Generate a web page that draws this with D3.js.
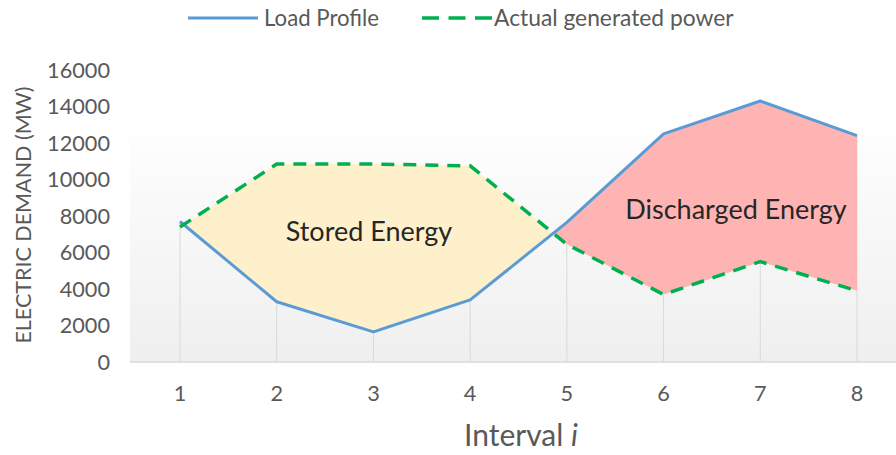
<!DOCTYPE html>
<html><head><meta charset="utf-8">
<script src="https://cdn.jsdelivr.net/npm/d3@7"></script>
<style>body{margin:0;background:#fff}svg{display:block;font-family:Lato,"Open Sans",sans-serif}</style>
</head><body><svg id="c" width="896" height="455"></svg>
<script>
const intervals = [1,2,3,4,5,6,7,8];
const loadProfile = [7700, 3300, 1650, 3400, 7650, 12500, 14300, 12400];
const generated = [7400, 10850, 10850, 10750, 6450, 3700, 5500, 3900];
const yTicks = [0,2000,4000,6000,8000,10000,12000,14000,16000];
const seriesNames = ["Load Profile", "Actual generated power"];
const regionLabels = ["Stored Energy", "Discharged Energy"];

const svg = d3.select("#c");
const x = d3.scalePoint().domain(intervals).range([180, 857]);
const y = d3.scaleLinear().domain([0,16000]).range([362, 70]);

// background gradient
const defs = svg.append("defs");
const g = defs.append("linearGradient").attr("id","bg").attr("x1",0).attr("y1",0).attr("x2",0).attr("y2",1);
g.append("stop").attr("offset","0%").attr("stop-color","#ffffff");
g.append("stop").attr("offset","100%").attr("stop-color","#efefef");
svg.append("rect").attr("x",130).attr("y",115).attr("width",766).attr("height",247).attr("fill","url(#bg)");

// drop lines
svg.append("g").selectAll("line").data(intervals).join("line")
  .attr("x1",d=>x(d)).attr("x2",d=>x(d))
  .attr("y1",y(0)).attr("y2",(d,i)=>y(Math.max(loadProfile[i],generated[i])))
  .attr("stroke","#d9d9d9").attr("stroke-width",1);

// crossing between series
const pts = intervals.map((d,i)=>({i:d, l:loadProfile[i], g:generated[i]}));
let stored=[], discharged=[];
for (let k=0;k<pts.length;k++){
  const p=pts[k];
  if (p.g>=p.l) stored.push(p); else discharged.push(p);
  if (k<pts.length-1){
    const q=pts[k+1];
    const d0=p.g-p.l, d1=q.g-q.l;
    if (d0*d1<0){
      const t=d0/(d0-d1);
      const c={i:p.i+t*(q.i-p.i), l:p.l+t*(q.l-p.l), g:p.g+t*(q.g-p.g)};
      stored.push(c); discharged.push(c);
    }
  }
}
const xl = d3.scaleLinear().domain([1,8]).range([x(1),x(8)]);
const area = d3.area().x(d=>xl(d.i)).y0(d=>y(d.l)).y1(d=>y(d.g));
svg.append("path").datum(stored).attr("d",area).attr("fill","#fff0cc");
svg.append("path").datum(discharged).attr("d",area).attr("fill","#ffb4b4");

// axis line
svg.append("line").attr("x1",130).attr("x2",896).attr("y1",y(0)).attr("y2",y(0)).attr("stroke","#d9d9d9").attr("stroke-width",1.5);

// lines
const line = d3.line().x((d,i)=>x(intervals[i])).y(d=>y(d));
svg.append("path").datum(loadProfile).attr("d",line).attr("fill","none").attr("stroke","#5b9bd5").attr("stroke-width",3).attr("stroke-linejoin","round");
svg.append("path").datum(generated).attr("d",line).attr("fill","none").attr("stroke","#00b050").attr("stroke-width",3.5).attr("stroke-dasharray","13,9");

// region labels
svg.append("text").attr("x",369).attr("y",241).attr("text-anchor","middle").attr("font-size",27).attr("fill","#262626").text(regionLabels[0]);
svg.append("text").attr("x",736).attr("y",219).attr("text-anchor","middle").attr("font-size",27).attr("fill","#262626").text(regionLabels[1]);

// y ticks
svg.append("g").selectAll("text").data(yTicks).join("text")
  .attr("x",110).attr("y",d=>y(d)).attr("dy","0.36em").attr("text-anchor","end")
  .attr("font-size",21.7).attr("fill","#595959").text(d=>d);
// x ticks
svg.append("g").selectAll("text").data(intervals).join("text")
  .attr("x",d=>x(d)).attr("y",401).attr("text-anchor","middle")
  .attr("font-size",21.7).attr("fill","#595959").text(d=>d);

// axis titles
svg.append("text").attr("transform","translate(31,215) rotate(-90)").attr("text-anchor","middle")
  .attr("font-size",21.5).attr("fill","#595959").text("ELECTRIC DEMAND (MW)");
const xt = svg.append("text").attr("x",521).attr("y",446).attr("text-anchor","middle").attr("font-size",30).attr("fill","#595959");
xt.append("tspan").text("Interval ");
xt.append("tspan").attr("font-style","italic").text("i");

// legend
const lg = svg.append("g");
lg.append("line").attr("x1",188).attr("x2",258).attr("y1",18).attr("y2",18).attr("stroke","#5b9bd5").attr("stroke-width",3);
lg.append("text").attr("x",264).attr("y",26).attr("font-size",22.2).attr("fill","#595959").text(seriesNames[0]);
lg.append("line").attr("x1",422).attr("x2",492).attr("y1",18).attr("y2",18).attr("stroke","#00b050").attr("stroke-width",3.5).attr("stroke-dasharray","17,9.5");
lg.append("text").attr("x",494).attr("y",26).attr("font-size",22.8).attr("fill","#595959").text(seriesNames[1]);
</script></body></html>
